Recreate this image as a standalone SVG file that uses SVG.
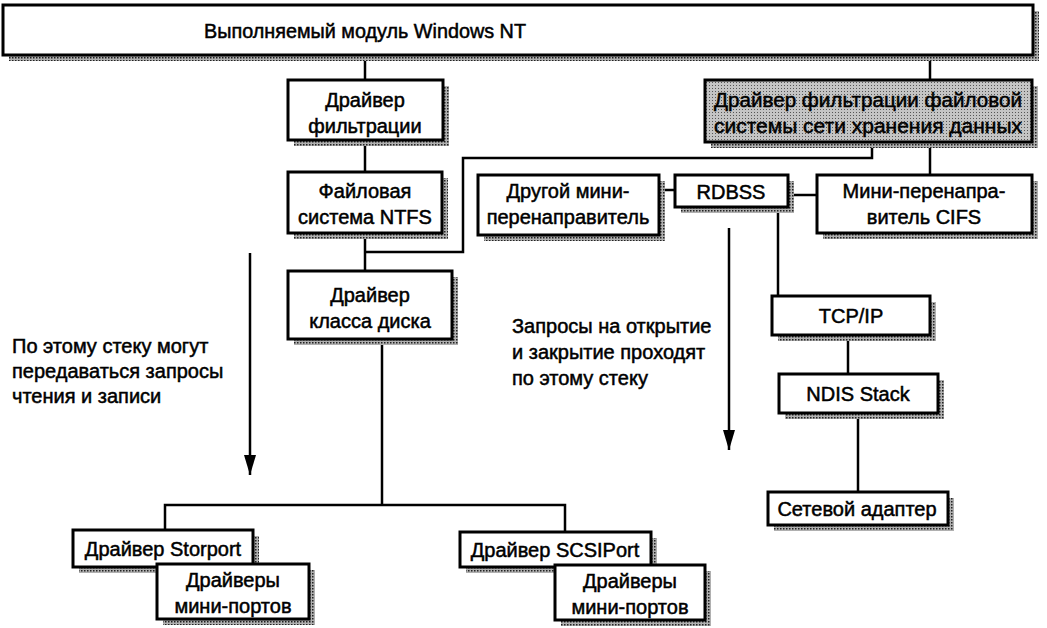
<svg xmlns="http://www.w3.org/2000/svg" width="1047" height="628" viewBox="0 0 1047 628">
<defs>
<pattern id="stip" width="3" height="3" patternUnits="userSpaceOnUse">
<rect width="3" height="3" fill="#b0b0b0"/>
<rect x="0" y="0" width="1.5" height="1.5" fill="#222"/>
</pattern>
<pattern id="grayfill" width="3" height="3" patternUnits="userSpaceOnUse">
<rect width="3" height="3" fill="#c4c4c4"/>
<rect x="1" y="1" width="1" height="1" fill="#555"/>
</pattern>
<marker id="arr" viewBox="0 0 20 12" refX="20" refY="6" markerWidth="20" markerHeight="12" markerUnits="userSpaceOnUse" orient="auto">
<path d="M0,0 L20,6 L0,12 Z" fill="#000"/>
</marker>
</defs>
<style>
.box{fill:#fff;stroke:#000;stroke-width:3}
.gbox{fill:url(#grayfill);stroke:#000;stroke-width:3}
.sh{fill:url(#stip);stroke:none}
.t{font-family:"Liberation Sans",Arial,sans-serif;font-size:20px;fill:#000;stroke:#000;stroke-width:0.5;text-anchor:middle}
.tl{font-family:"Liberation Sans",Arial,sans-serif;font-size:20px;fill:#000;stroke:#000;stroke-width:0.5;text-anchor:start}
.c{fill:none;stroke:#000;stroke-width:2.5}
</style>
<rect width="1047" height="628" fill="#fff"/>

<g id="connectors">
<line class="c" x1="365" y1="55" x2="365" y2="80"/>
<line class="c" x1="930" y1="55" x2="930" y2="80"/>
<line class="c" x1="365" y1="140" x2="365" y2="172"/>
<line class="c" x1="365" y1="233" x2="365" y2="271"/>
<polyline class="c" points="365,252 463,252 463,158 872,158 872,142"/>
<line class="c" x1="930" y1="142" x2="930" y2="175"/>
<line class="c" x1="659" y1="190" x2="675" y2="190"/>
<line class="c" x1="788" y1="195" x2="817" y2="195"/>
<line class="c" x1="778" y1="207" x2="778" y2="296"/>
<line class="c" x1="848" y1="335" x2="848" y2="374"/>
<line class="c" x1="858" y1="413" x2="858" y2="493"/>
<line class="c" x1="382" y1="339" x2="382" y2="505"/>
<polyline class="c" points="165,530 165,505 565,505 565,532"/>
<line class="c" x1="250" y1="253" x2="250" y2="475" marker-end="url(#arr)"/>
<line class="c" x1="729" y1="228" x2="729" y2="450" marker-end="url(#arr)"/>
</g>

<g id="n-executive">
<rect class="sh" x="9" y="11" width="1030" height="50"/>
<rect class="box" x="3" y="5" width="1030" height="50"/>
<text class="t" x="365" y="38" textLength="322" lengthAdjust="spacingAndGlyphs">Выполняемый модуль Windows NT</text>
</g>

<g id="n-filter">
<rect class="sh" x="294" y="86" width="155" height="60"/>
<rect class="box" x="288" y="80" width="155" height="60"/>
<text class="t" x="365" y="107">Драйвер</text>
<text class="t" x="365" y="133">фильтрации</text>
</g>

<g id="n-ntfs">
<rect class="sh" x="294" y="178" width="154" height="61"/>
<rect class="box" x="288" y="172" width="154" height="61"/>
<text class="t" x="365" y="198">Файловая</text>
<text class="t" x="365" y="224">система NTFS</text>
</g>

<g id="n-disk">
<rect class="sh" x="294" y="277" width="164" height="68"/>
<rect class="box" x="288" y="271" width="164" height="68"/>
<text class="t" x="370" y="302">Драйвер</text>
<text class="t" x="370" y="328">класса диска</text>
</g>

<g id="n-sanfilter">
<rect class="sh" x="711" y="86" width="327" height="62"/>
<rect class="gbox" x="705" y="80" width="327" height="62"/>
<text class="t" x="868" y="107" textLength="308" lengthAdjust="spacingAndGlyphs">Драйвер фильтрации файловой</text>
<text class="t" x="868" y="133" textLength="308" lengthAdjust="spacingAndGlyphs">системы сети хранения данных</text>
</g>

<g id="n-other">
<rect class="sh" x="484" y="181" width="181" height="60"/>
<rect class="box" x="478" y="175" width="181" height="60"/>
<text class="t" x="568" y="198">Другой мини-</text>
<text class="t" x="568" y="224">перенаправитель</text>
</g>

<g id="n-rdbss">
<rect class="sh" x="681" y="181" width="113" height="32"/>
<rect class="box" x="675" y="175" width="113" height="32"/>
<text class="t" x="731" y="199">RDBSS</text>
</g>

<g id="n-cifs">
<rect class="sh" x="823" y="181" width="215" height="58"/>
<rect class="box" x="817" y="175" width="215" height="58"/>
<text class="t" x="924" y="198">Мини-перенапра-</text>
<text class="t" x="924" y="224">витель CIFS</text>
</g>

<g id="n-tcpip">
<rect class="sh" x="778" y="302" width="158" height="39"/>
<rect class="box" x="772" y="296" width="158" height="39"/>
<text class="t" x="851" y="323">TCP/IP</text>
</g>

<g id="n-ndis">
<rect class="sh" x="785" y="380" width="159" height="39"/>
<rect class="box" x="779" y="374" width="159" height="39"/>
<text class="t" x="858" y="401">NDIS Stack</text>
</g>

<g id="n-nic">
<rect class="sh" x="774" y="498" width="180" height="33"/>
<rect class="box" x="768" y="492" width="180" height="33"/>
<text class="t" x="857" y="516">Сетевой адаптер</text>
</g>

<g id="n-storport">
<rect class="sh" x="79" y="536" width="180" height="37"/>
<rect class="box" x="73" y="530" width="180" height="37"/>
<text class="t" x="163" y="556">Драйвер Storport</text>
</g>

<g id="n-mini1">
<rect class="sh" x="163" y="570" width="152" height="55"/>
<rect class="box" x="157" y="564" width="152" height="55"/>
<text class="t" x="233" y="587">Драйверы</text>
<text class="t" x="233" y="613">мини-портов</text>
</g>

<g id="n-scsiport">
<rect class="sh" x="466" y="538" width="191" height="35"/>
<rect class="box" x="460" y="532" width="191" height="35"/>
<text class="t" x="555" y="557">Драйвер SCSIPort</text>
</g>

<g id="n-mini2">
<rect class="sh" x="561" y="571" width="150" height="55"/>
<rect class="box" x="555" y="565" width="150" height="55"/>
<text class="t" x="630" y="588">Драйверы</text>
<text class="t" x="630" y="614">мини-портов</text>
</g>

<g id="labels">
<text class="tl" x="12" y="353">По этому стеку могут</text>
<text class="tl" x="12" y="378">передаваться запросы</text>
<text class="tl" x="12" y="403">чтения и записи</text>
<text class="tl" x="512" y="333">Запросы на открытие</text>
<text class="tl" x="512" y="359">и закрытие проходят</text>
<text class="tl" x="512" y="385">по этому стеку</text>
</g>
</svg>
